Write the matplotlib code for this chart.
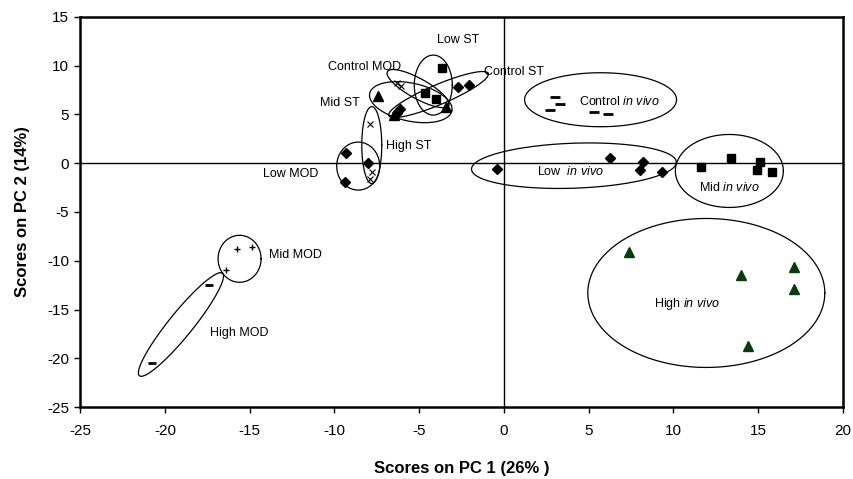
import numpy as np
import matplotlib
matplotlib.use("Agg")
import matplotlib.pyplot as plt

plt.rcParams['font.family'] = ['Liberation Sans', 'DejaVu Sans']
plt.rcParams['mathtext.fontset'] = 'custom'
plt.rcParams['mathtext.rm'] = 'Liberation Sans'
plt.rcParams['mathtext.it'] = 'Liberation Sans:italic'
plt.rcParams['axes.unicode_minus'] = False

# PCA scores per group (PC1, PC2)
control_st_x = [-2.7, -2.05, -6.13, -6.33]
control_st_y = [7.76, 8.0, 5.5, 5.16]
low_st_x = [-3.67, -4.66, -4.01]
low_st_y = [9.7, 7.15, 6.54]
mid_st_x = [-7.41, -3.42, -6.5]
mid_st_y = [6.87, 5.8, 4.9]
high_st_x = [-7.9, -7.8, -7.9]
high_st_y = [4.0, -0.9, -1.6]
control_mod_x = [-6.33, -6.07]
control_mod_y = [8.2, 7.9]
low_mod_x = [-9.32, -9.38, -8.0]
low_mod_y = [0.99, -1.92, -0.03]
mid_mod_x = [-15.76, -14.84, -16.4]
mid_mod_y = [-8.8, -8.6, -10.9]
high_mod_x = [-17.39, -20.74]
high_mod_y = [-12.5, -20.48]
control_iv_x = [3.0, 3.3, 2.7, 5.3, 6.15]
control_iv_y = [6.8, 6.1, 5.4, 5.2, 5.0]
low_iv_x = [-0.43, 6.25, 8.2, 8.0, 9.3]
low_iv_y = [-0.55, 0.48, 0.13, -0.7, -0.95]
mid_iv_x = [11.65, 13.37, 15.1, 14.96, 15.8]
mid_iv_y = [-0.38, 0.48, 0.13, -0.65, -0.9]
high_iv_x = [7.4, 14.0, 17.1, 17.1, 14.4]
high_iv_y = [-9.1, -11.5, -10.6, -12.9, -18.7]

xticks = [-25, -20, -15, -10, -5, 0, 5, 10, 15, 20]
yticks = [-25, -20, -15, -10, -5, 0, 5, 10, 15]

fig = plt.figure(figsize=(8.54, 4.79), dpi=100)
ax = fig.add_axes([0.094, 0.150, 0.893, 0.815])
ax.set_xlim(-25, 20)
ax.set_ylim(-25, 15)

ax.axhline(0, color='black', lw=1, zorder=1)
ax.axvline(0, color='black', lw=1, zorder=1)

k = 'black'
ax.plot(control_st_x, control_st_y, 'D', color=k, ms=5, ls='none')
ax.plot(low_st_x, low_st_y, 's', color=k, ms=6, ls='none')
ax.plot(mid_st_x, mid_st_y, '^', color=k, ms=6.5, ls='none')
ax.plot(high_st_x, high_st_y, 'x', color=k, ms=4, mew=0.8, ls='none')
ax.plot(control_mod_x, control_mod_y, 'x', color=k, ms=4, mew=0.8, ls='none')
ax.plot(low_mod_x, low_mod_y, 'D', color=k, ms=5, ls='none')
ax.plot(mid_mod_x, mid_mod_y, '+', color=k, ms=5, mew=1, ls='none')
ax.plot(high_mod_x, high_mod_y, '_', color=k, ms=6, mew=2, ls='none')
ax.plot(control_iv_x, control_iv_y, '_', color=k, ms=7, mew=2, ls='none')
ax.plot(low_iv_x, low_iv_y, 'D', color=k, ms=5, ls='none')
ax.plot(mid_iv_x, mid_iv_y, 's', color=k, ms=6, ls='none')
ax.plot(high_iv_x, high_iv_y, '^', color='#0d3b0d', ms=6.5, ls='none')

# hand-drawn group outlines: centre (data), width/height in pixels, screen angle
outlines = [
    (-4.17, 8.0, 38, 60, 0),      # Low ST
    (-5.5, 6.25, 84, 38, -12),    # Mid ST
    (-3.86, 7.03, 108, 20, 23),   # Control ST
    (-5.07, 7.64, 70, 20, -29),   # Control MOD
    (-7.8, 1.85, 20, 77, 0),      # High ST
    (-8.6, -0.3, 43, 48, 0),      # Low MOD
    (-15.6, -9.8, 43, 47, 0),     # Mid MOD
    (-19.06, -16.53, 132, 24, 51),  # High MOD
    (5.7, 6.5, 152, 54, 0),       # Control in vivo
    (4.13, -0.26, 205, 45, 2),    # Low in vivo
    (13.3, -0.8, 108, 73, 0),     # Mid in vivo
    (11.94, -13.3, 237, 149, 0),  # High in vivo
]

bb = ax.get_window_extent()
sx = bb.width / 45.0
sy = bb.height / 40.0
t = np.linspace(0, 2 * np.pi, 300)
for cx, cy, w, h, ang in outlines:
    a = np.deg2rad(ang)
    u = w / 2 * np.cos(t)
    v = h / 2 * np.sin(t)
    X = u * np.cos(a) - v * np.sin(a)
    Y = u * np.sin(a) + v * np.cos(a)
    ax.plot(cx + X / sx, cy + Y / sy, color='black', lw=0.9, zorder=2)

labels = [
    (-2.7, 12.6, 'Low ST'),
    (-8.25, 9.85, 'Control MOD'),
    (0.62, 9.33, 'Control ST'),
    (-9.67, 6.15, 'Mid ST'),
    (-5.63, 1.74, 'High ST'),
    (-12.56, -1.13, 'Low MOD'),
    (-12.32, -9.4, 'Mid MOD'),
    (-15.6, -17.4, 'High MOD'),
    (6.84, 6.36, r'Control $\mathit{in\ vivo}$'),
    (3.95, -0.82, r'Low  $\mathit{in\ vivo}$'),
    (13.27, -2.46, r'Mid $\mathit{in\ vivo}$'),
    (10.8, -14.46, r'High $\mathit{in\ vivo}$'),
]
for lx, ly, s in labels:
    ax.text(lx, ly, s, ha='center', va='center', fontsize=9, zorder=3)

ax.set_xticks(xticks)
ax.set_yticks(yticks)
ax.tick_params(direction='out', length=4, width=1, labelsize=11)
ax.tick_params(axis='x', pad=8)
ax.tick_params(axis='y', pad=4)
for sp in ax.spines.values():
    sp.set_linewidth(1.8)

ax.set_xlabel('Scores on PC 1 (26% )', fontsize=12, fontweight='bold', labelpad=17)
ax.set_ylabel('Scores on PC 2 (14%)', fontsize=12, fontweight='bold', labelpad=12)

fig.savefig('out.png', dpi=100)
